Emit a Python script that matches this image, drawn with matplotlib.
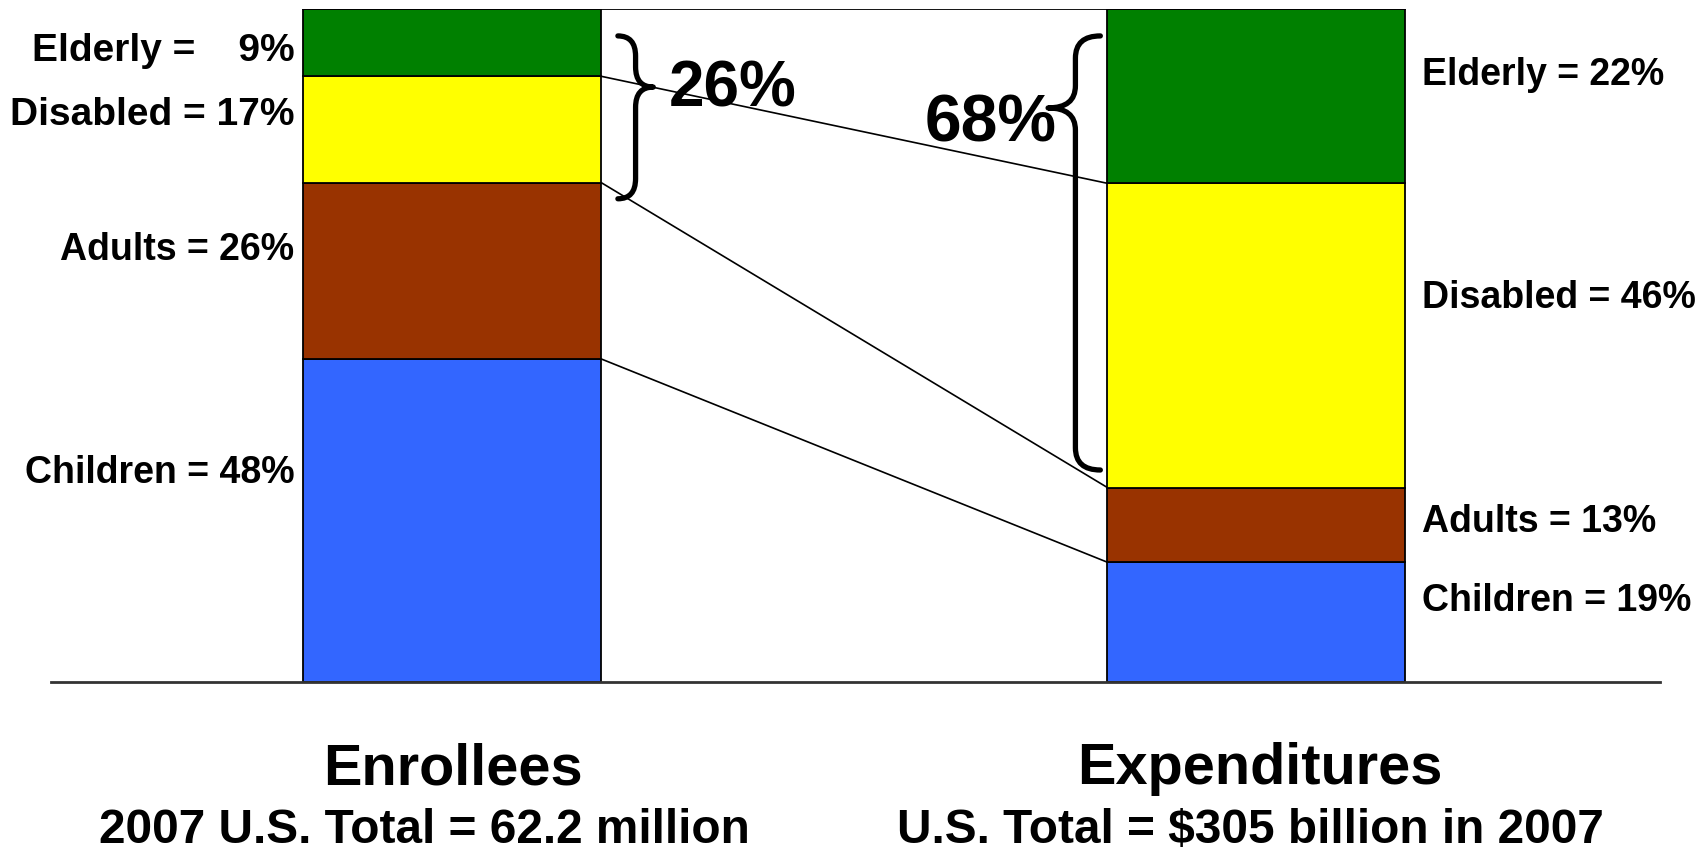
import matplotlib
matplotlib.use("Agg")
import matplotlib.pyplot as plt
import numpy as np
from matplotlib.path import Path
from matplotlib.patches import PathPatch

plt.rcParams['font.family'] = ['Liberation Sans', 'DejaVu Sans']
plt.rcParams['font.weight'] = 'bold'

# data (segment heights as drawn, bottom to top)
groups = ["Children", "Adults", "Disabled", "Elderly"]
colors = ["#3366FF", "#993300", "#FFFF00", "#008000"]
enrollees = [48.0, 26.2, 15.8, 10.0]
expenditures = [17.8, 11.1, 45.2, 25.9]
left_labels = ["Children = 48%", "Adults = 26%", "Disabled = 17%", "Elderly =    9%"]
right_labels = ["Children = 19%", "Adults = 13%", "Disabled = 46%", "Elderly = 22%"]
titles = ["Enrollees", "Expenditures"]
subtitles = ["2007 U.S. Total = 62.2 million", "U.S. Total = $305 billion in 2007"]
brace_left_txt = "26%"
brace_right_txt = "68%"

# label heights (layout only)
left_label_y = [31.0, 64.2, 84.3, 93.7]
left_label_fs = [27, 27, 28, 28]
right_label_y = [12.1, 23.8, 57.1, 90.2]

W = 0.3706
fig = plt.figure(figsize=(17.05, 8.52), dpi=100)
ax = fig.add_axes([51 / 1705, (852 - 682) / 852, 1609 / 1705, 673 / 852])
ax.set_xlim(-0.499, 1.502)
ax.set_ylim(0, 100)
for s in ["top", "left", "right"]:
    ax.spines[s].set_visible(False)
ax.spines["bottom"].set_linewidth(2)
ax.spines["bottom"].set_color("#333333")
ax.set_xticks([])
ax.set_yticks([])

bl = np.cumsum([0] + enrollees[:-1])
br = np.cumsum([0] + expenditures[:-1])
for i in range(4):
    ax.bar(0, enrollees[i], W, bottom=bl[i], color=colors[i], edgecolor="black", linewidth=1.3, zorder=2)
    ax.bar(1, expenditures[i], W, bottom=br[i], color=colors[i], edgecolor="black", linewidth=1.3, zorder=2)
ax.plot([-W / 2, 1 + W / 2], [100, 100], color="black", lw=1.3, zorder=3)

# connecting lines
tl = np.cumsum(enrollees)
tr = np.cumsum(expenditures)
for i in range(3):
    ax.plot([W / 2, 1 - W / 2], [tl[i], tr[i]], color="black", lw=1.2, zorder=1)

for lab, y, fs in zip(left_labels, left_label_y, left_label_fs):
    ax.text(-0.1965, y, lab, ha="right", va="center", fontsize=fs, fontweight="bold")
for lab, y in zip(right_labels, right_label_y):
    ax.text(1.2065, y, lab, ha="left", va="center", fontsize=27, fontweight="bold")


def brace(x0, xs, xt, yt, ym, yb, r):
    verts = [(x0, yt), (xs, yt), (xs, yt - r), (xs, ym + r), (xs, ym), (xt, ym),
             (xs, ym), (xs, ym - r), (xs, yb + r), (xs, yb), (x0, yb)]
    codes = [Path.MOVETO, Path.CURVE3, Path.CURVE3, Path.LINETO, Path.CURVE3, Path.CURVE3,
             Path.CURVE3, Path.CURVE3, Path.LINETO, Path.CURVE3, Path.CURVE3]
    ax.add_patch(PathPatch(Path(verts, codes), fill=False, lw=3.8, color="black",
                           capstyle="round", joinstyle="round", zorder=4))


brace(0.206, 0.228, 0.250, 96.0, 88.4, 71.8, 3.0)
brace(0.806, 0.775, 0.741, 96.0, 85.3, 31.5, 3.3)
ax.text((732 - 452) / 804, 88.0, brace_left_txt, ha="center", va="center", fontsize=46, fontweight="bold")
ax.text((990 - 452) / 804, 82.9, brace_right_txt, ha="center", va="center", fontsize=47.5, fontweight="bold")

tx = [0.001, 1.004]
sx = [-0.034, 0.993]
for i in range(2):
    ax.text(tx[i], -13.0, titles[i], ha="center", va="center", fontsize=41.5, fontweight="bold", clip_on=False)
    ax.text(sx[i], -22.1, subtitles[i], ha="center", va="center", fontsize=34.4, fontweight="bold", clip_on=False)

fig.savefig("out.png", dpi=100)
